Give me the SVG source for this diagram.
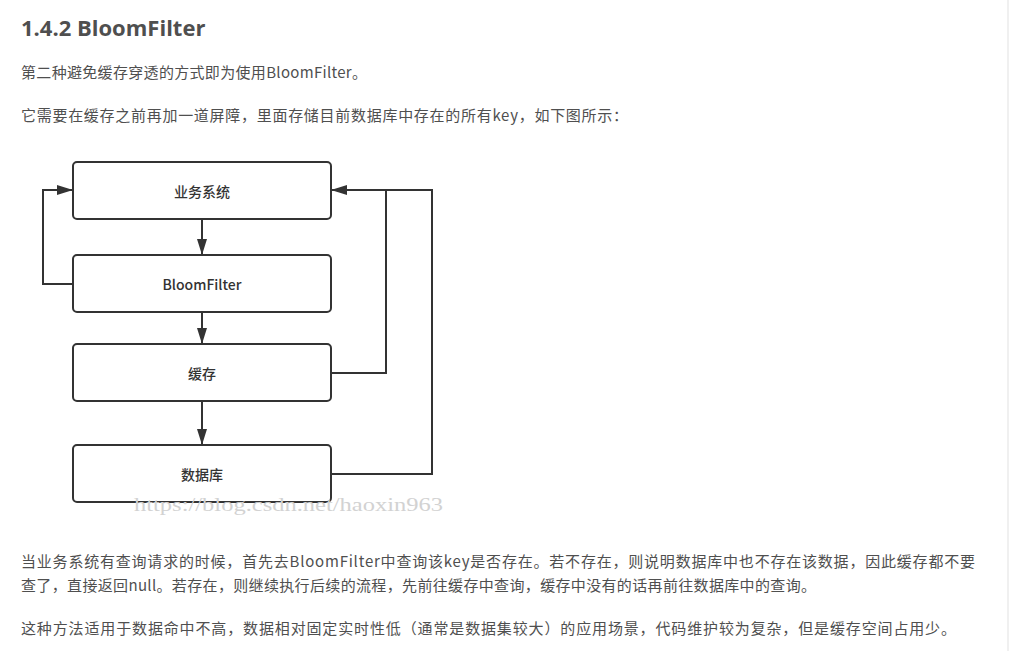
<svg xmlns="http://www.w3.org/2000/svg" width="1009" height="651" viewBox="0 0 1009 651">
<style>
.body{font-family:"Noto Sans CJK SC","Liberation Sans",sans-serif;font-size:15px;fill:#4f4f4f}
.h{font-family:"Open Sans","Noto Sans CJK SC",sans-serif;font-size:22px;font-weight:bold;fill:#4f4f4f}
.box{fill:#ffffff;stroke:#333333;stroke-width:2}
.lbl{font-family:"Noto Sans CJK SC","Liberation Sans",sans-serif;font-size:14px;font-weight:500;fill:#333333;text-anchor:middle;dominant-baseline:central}
.edge{fill:none;stroke:#333333;stroke-width:2}
.wm{font-family:"Liberation Serif",serif;font-size:18px;fill:#d2d2d2}
</style>
<defs>
<marker id="ah" markerWidth="16" markerHeight="10" refX="16" refY="5" orient="auto" markerUnits="userSpaceOnUse">
<path d="M0,0 L16,5 L0,10 Z" fill="#333333"/>
</marker>
</defs>
<rect x="0" y="0" width="1009" height="651" fill="#ffffff"/>
<rect x="1007" y="0" width="2" height="651" fill="#f0f0f0"/>
<text class="h" x="21" y="36">1.4.2 BloomFilter</text>
<text class="body" x="21" y="78" textLength="346">第二种避免缓存穿透的方式即为使用BloomFilter。</text>
<text class="body" x="21" y="121" textLength="607">它需要在缓存之前再加一道屏障，里面存储目前数据库中存在的所有key，如下图所示：</text>

<g id="connectors">
<path class="edge" d="M202,219 V255" marker-end="url(#ah)"/>
<path class="edge" d="M202,312 V344" marker-end="url(#ah)"/>
<path class="edge" d="M202,401 V445" marker-end="url(#ah)"/>
<path class="edge" d="M73,284 H43 V190 H73" marker-end="url(#ah)"/>
<path class="edge" d="M331,373 H386 V190"/>
<path class="edge" d="M331,474 H432 V190 H331" marker-end="url(#ah)"/>
</g>

<g id="node-business">
<rect class="box" x="73" y="162" width="258" height="57" rx="4"/>
<text class="lbl" x="202" y="191">业务系统</text>
</g>
<g id="node-bloomfilter">
<rect class="box" x="73" y="255" width="258" height="57" rx="4"/>
<text class="lbl" x="202" y="284">BloomFilter</text>
</g>
<g id="node-cache">
<rect class="box" x="73" y="344" width="258" height="57" rx="4"/>
<text class="lbl" x="202" y="373">缓存</text>
</g>
<g id="node-db">
<rect class="box" x="73" y="445" width="258" height="57" rx="4"/>
<text class="lbl" x="202" y="474">数据库</text>
</g>

<text class="wm" x="134" y="511" textLength="309" lengthAdjust="spacingAndGlyphs">https://blog.csdn.net/haoxin963</text>

<text class="body" x="21" y="567" textLength="954">当业务系统有查询请求的时候，首先去BloomFilter中查询该key是否存在。若不存在，则说明数据库中也不存在该数据，因此缓存都不要</text>
<text class="body" x="21" y="591" textLength="795">查了，直接返回null。若存在，则继续执行后续的流程，先前往缓存中查询，缓存中没有的话再前往数据库中的查询。</text>
<text class="body" x="21" y="634" textLength="935">这种方法适用于数据命中不高，数据相对固定实时性低（通常是数据集较大）的应用场景，代码维护较为复杂，但是缓存空间占用少。</text>
</svg>
